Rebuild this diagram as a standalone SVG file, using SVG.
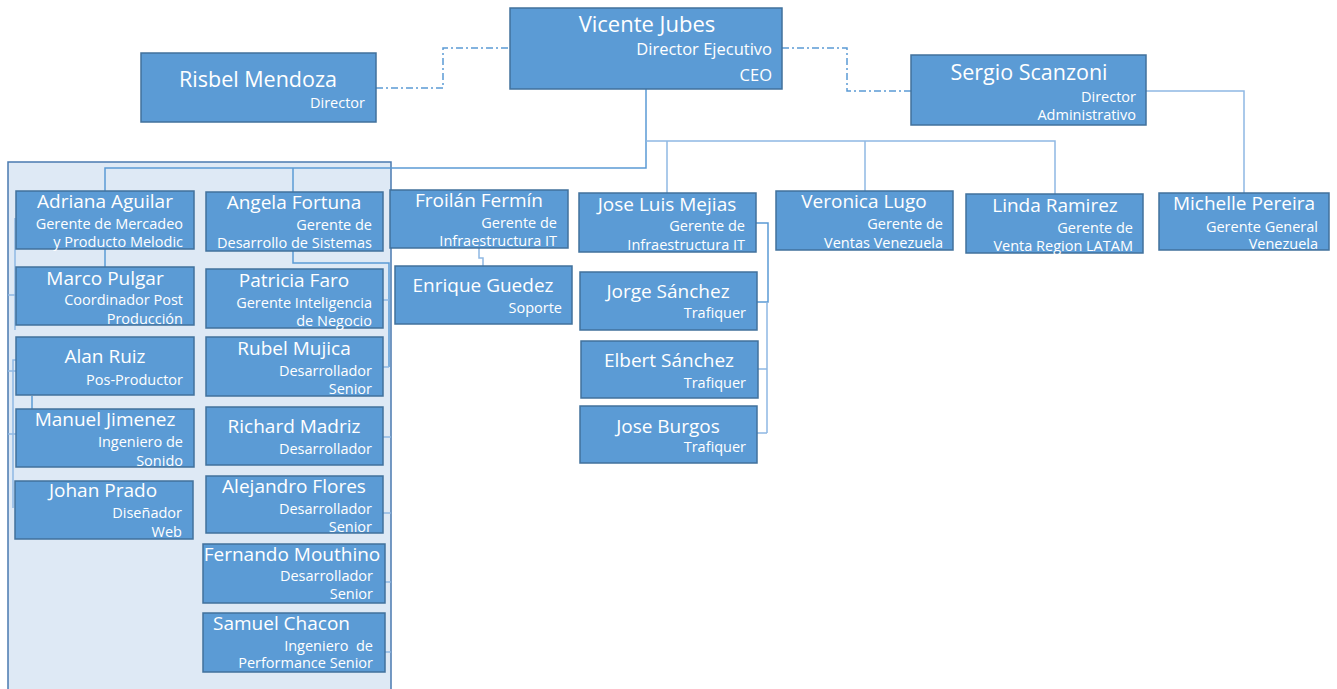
<svg xmlns="http://www.w3.org/2000/svg" width="1337" height="689" viewBox="0 0 1337 689">
<style>
.box{fill:#5b9bd5;stroke:#41719c;stroke-width:1.5}
.panel{fill:#dee9f5;stroke:#4a7ab0;stroke-width:1.5}
text{fill:#ffffff;font-family:"Open Sans","Noto Sans",sans-serif}
.big{font-size:21.5px;text-anchor:middle}
.t{font-size:19px;text-anchor:middle}
.ts{font-size:17px;text-anchor:middle}
.s{font-size:14.5px;text-anchor:end}
.sc{font-size:16.5px;text-anchor:end}
.ln{fill:none;stroke:#5b9bd5;stroke-width:1.5}
.lt{fill:none;stroke:#8fb8e3;stroke-width:1.5}
.dd{fill:none;stroke:#5b9bd5;stroke-width:1.5;stroke-dasharray:7 3 2 3}
</style>
<rect id="panel" class="panel" x="8" y="162" width="383" height="540"/>
<g id="connectors">
<path class="dd" d="M376,88 H443 V48 H510"/>
<path class="dd" d="M782,48 H847 V91 H911"/>
<path class="ln" d="M646,89 V168 H105 V191"/>
<path class="ln" d="M293,168 V192"/>
<path class="lt" d="M646,141 H1055 V194"/>
<path class="lt" d="M865,141 V191"/>
<path class="lt" d="M667,141 V193"/>
<path class="lt" d="M1146,91 H1244 V193"/>
<path class="ln" d="M105,249 V267"/>
<path class="lt" d="M15,218 V330"/>
<path class="lt" d="M8,295 H16 M8,371 H16 M8,434 H16"/>
<path class="lt" d="M16,360 H13 V508"/>
<path class="ln" d="M32,396 V409"/>
<path class="ln" d="M293,251 V263 H389 V367"/>
<path class="lt" d="M383,300 H389 M383,367 H389"/>
<path class="lt" d="M383,437 H391 M383,513 H391 M385,582 H391 M385,652 H391"/>
<path class="lt" d="M479,248 V258 H483 V266"/>
<path class="ln" d="M756,223 H768 V302 H757"/>
<path class="lt" d="M767,302 V433 M758,369 H767 M757,433 H767"/>
</g>
<g id="vicente"><rect class="box" x="510" y="8" width="272" height="81"/><text class="big" x="647" y="32" style="font-size:22px">Vicente Jubes</text><text class="sc" x="772" y="55">Director Ejecutivo</text><text class="sc" x="772" y="81">CEO</text></g>
<g id="risbel"><rect class="box" x="141" y="53" width="235" height="69"/><text class="big" x="258" y="87">Risbel Mendoza</text><text class="s" x="365" y="108">Director</text></g>
<g id="sergio"><rect class="box" x="911" y="55" width="235" height="70"/><text class="big" x="1029" y="80">Sergio Scanzoni</text><text class="s" x="1136" y="102">Director</text><text class="s" x="1136" y="120">Administrativo</text></g>
<g id="adriana"><rect class="box" x="16" y="191" width="178" height="58"/><text class="t" x="105" y="208">Adriana Aguilar</text><text class="s" x="183" y="229">Gerente de Mercadeo</text><text class="s" x="183" y="247">y Producto Melodic</text></g>
<g id="angela"><rect class="box" x="206" y="192" width="177" height="59"/><text class="t" x="294" y="209">Angela Fortuna</text><text class="s" x="372" y="230">Gerente de</text><text class="s" x="372" y="248">Desarrollo de Sistemas</text></g>
<g id="marco"><rect class="box" x="16" y="267" width="178" height="58"/><text class="t" x="105" y="285">Marco Pulgar</text><text class="s" x="183" y="305">Coordinador Post</text><text class="s" x="183" y="324">Producción</text></g>
<g id="patricia"><rect class="box" x="206" y="269" width="177" height="59"/><text class="t" x="294" y="287">Patricia Faro</text><text class="s" x="372" y="308">Gerente Inteligencia</text><text class="s" x="372" y="326">de Negocio</text></g>
<g id="alan"><rect class="box" x="16" y="337" width="178" height="58"/><text class="t" x="105" y="363">Alan Ruiz</text><text class="s" x="183" y="385">Pos-Productor</text></g>
<g id="rubel"><rect class="box" x="206" y="337" width="177" height="59"/><text class="t" x="294" y="355">Rubel Mujica</text><text class="s" x="372" y="376">Desarrollador</text><text class="s" x="372" y="394">Senior</text></g>
<g id="manuel"><rect class="box" x="16" y="409" width="178" height="58"/><text class="t" x="105" y="426">Manuel Jimenez</text><text class="s" x="183" y="447">Ingeniero de</text><text class="s" x="183" y="466">Sonido</text></g>
<g id="richard"><rect class="box" x="206" y="407" width="177" height="58"/><text class="t" x="294" y="433">Richard Madriz</text><text class="s" x="372" y="454">Desarrollador</text></g>
<g id="johan"><rect class="box" x="15" y="481" width="178" height="58"/><text class="t" x="103" y="497">Johan Prado</text><text class="s" x="182" y="518">Diseñador</text><text class="s" x="182" y="537">Web</text></g>
<g id="alejandro"><rect class="box" x="206" y="476" width="177" height="57"/><text class="t" x="294" y="493">Alejandro Flores</text><text class="s" x="372" y="514">Desarrollador</text><text class="s" x="372" y="532">Senior</text></g>
<g id="fernando"><rect class="box" x="203" y="544" width="182" height="59"/><text class="t" x="292" y="561">Fernando Mouthino</text><text class="s" x="373" y="581">Desarrollador</text><text class="s" x="373" y="599">Senior</text></g>
<g id="samuel"><rect class="box" x="203" y="613" width="182" height="59"/><text class="t" x="213" y="630" style="text-anchor:start">Samuel Chacon</text><text class="s" x="373" y="651" xml:space="preserve">Ingeniero  de</text><text class="s" x="373" y="668">Performance Senior</text></g>
<g id="froilan"><rect class="box" x="390" y="190" width="178" height="58"/><text class="t" x="479" y="207">Froilán Fermín</text><text class="s" x="557" y="228">Gerente de</text><text class="s" x="557" y="246">Infraestructura IT</text></g>
<g id="enrique"><rect class="box" x="395" y="266" width="177" height="58"/><text class="t" x="483" y="292">Enrique Guedez</text><text class="s" x="562" y="313">Soporte</text></g>
<g id="joseluis"><rect class="box" x="579" y="193" width="177" height="59"/><text class="t" x="667" y="211">Jose Luis Mejias</text><text class="s" x="745" y="231">Gerente de</text><text class="s" x="745" y="250">Infraestructura IT</text></g>
<g id="jorge"><rect class="box" x="580" y="272" width="177" height="58"/><text class="t" x="668" y="298">Jorge Sánchez</text><text class="s" x="746" y="318">Trafiquer</text></g>
<g id="elbert"><rect class="box" x="581" y="341" width="177" height="57"/><text class="t" x="669" y="367">Elbert Sánchez</text><text class="s" x="746" y="388">Trafiquer</text></g>
<g id="burgos"><rect class="box" x="580" y="406" width="177" height="57"/><text class="t" x="668" y="433">Jose Burgos</text><text class="s" x="746" y="452">Trafiquer</text></g>
<g id="veronica"><rect class="box" x="776" y="191" width="177" height="59"/><text class="t" x="864" y="208">Veronica Lugo</text><text class="s" x="943" y="229">Gerente de</text><text class="s" x="943" y="248">Ventas Venezuela</text></g>
<g id="linda"><rect class="box" x="966" y="194" width="177" height="59"/><text class="t" x="1055" y="212">Linda Ramirez</text><text class="s" x="1133" y="233">Gerente de</text><text class="s" x="1133" y="251">Venta Region LATAM</text></g>
<g id="michelle"><rect class="box" x="1159" y="193" width="170" height="57"/><text class="t" x="1244" y="210">Michelle Pereira</text><text class="s" x="1318" y="232">Gerente General</text><text class="s" x="1318" y="249">Venezuela</text></g>
</svg>
